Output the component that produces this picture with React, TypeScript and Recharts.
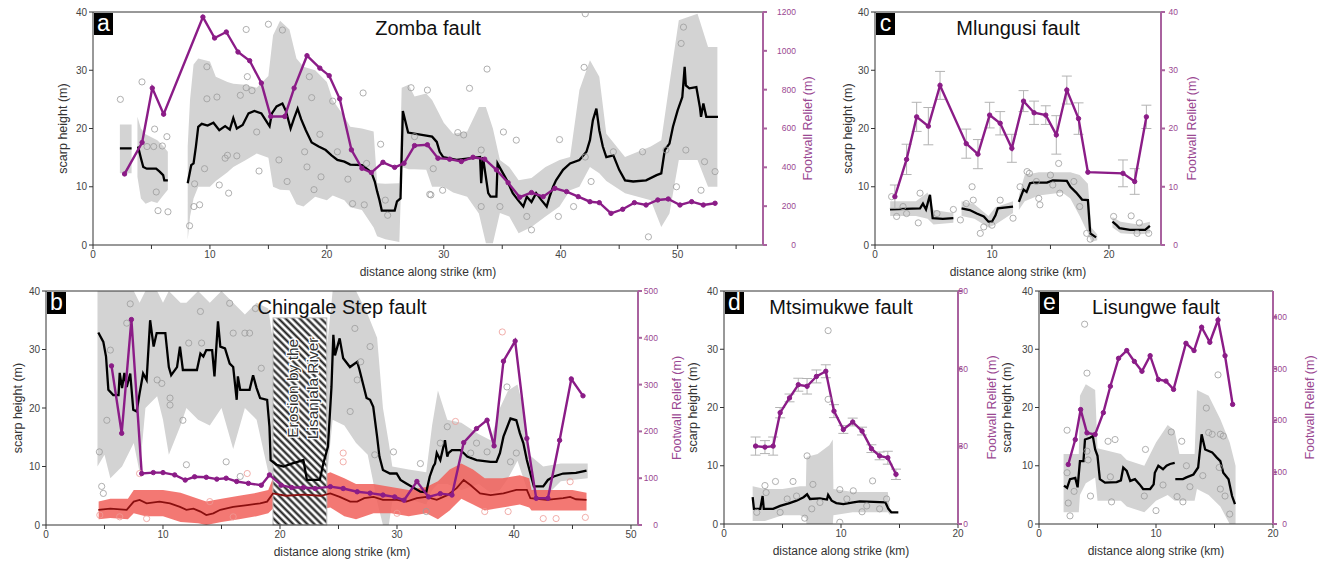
import React from "react";
import {
  ComposedChart,
  Line,
  Area,
  Scatter,
  XAxis,
  YAxis,
  ReferenceLine,
  ReferenceArea,
  ErrorBar,
} from "recharts";

const FONT = "'Liberation Sans', Arial, Helvetica, sans-serif";
const PURPLE = "#8b1c87";
const PURPLE_AXIS = "#a9629f";
const PURPLE_TEXT = "#9a4892";
const GREY_BAND = "#d3d3d3";
const RING = "#9c9c9c";

type XY = [number, number | null];
type Band = [number, number | null, number | null];

// ---- a: Zomba fault ----
const aScarp: XY[] = [
  [2.3, 16.6], [3.3, 16.6], [3.6, null],
  [3.85, 16.9], [4.1, 14.9], [4.3, 13.4], [4.6, 13.1], [5.4, 13.1], [5.7, 12.6], [6.0, 12.0], [6.1, 11.1], [6.4, 11.1], [7.0, null],
  [8.1, 10.6], [8.4, 13.7], [8.6, 14.0], [8.8, 16.9], [9.0, 20.3], [9.3, 20.8], [9.8, 20.5], [10.3, 21.0], [10.8, 19.7],
  [11.3, 20.4], [11.7, 19.8], [12.0, 21.8], [12.3, 20.0], [12.8, 20.6], [13.3, 22.6], [13.8, 23.0], [14.4, 22.6], [14.9, 21.0],
  [15.1, 20.4], [15.3, 22.6], [15.7, 23.8], [16.2, 24.3], [16.5, 23.0], [16.9, 20.0], [17.2, 21.8], [17.5, 23.4], [17.8, 21.6],
  [18.2, 19.7], [18.7, 17.6], [19.3, 16.9], [19.9, 16.3], [20.4, 15.4], [20.9, 14.6], [21.5, 14.3], [22.0, 13.8], [23.0, 13.7],
  [23.8, 12.5], [24.1, 10.9], [24.3, 9.2], [24.5, 7.7], [24.7, 5.9], [25.8, 5.9], [26.0, 7.5], [26.3, 8.0], [26.5, 23.0],
  [26.95, 19.3], [29.0, 18.6], [29.4, 17.7], [29.65, 16.0], [29.95, 15.1], [31.1, 14.6], [33.1, 15.1], [33.2, 10.6], [33.35, 15.1],
  [33.8, 8.9], [34.0, 8.3], [34.5, 8.3], [34.6, 14.0], [34.9, 12.9], [35.4, 11.1], [35.9, 8.9], [36.35, 7.7], [36.8, 6.6], [37.1, 8.3],
  [37.5, 7.4], [37.9, 8.9], [38.35, 7.7], [38.8, 6.6], [39.05, 8.3], [39.35, 10.0], [39.6, 11.1], [40.2, 12.9], [40.8, 14.0],
  [41.6, 14.6], [42.2, 16.0], [42.5, 18.0], [42.75, 21.4], [43.05, 23.4], [43.3, 19.7], [43.6, 16.9], [43.9, 15.1], [44.5, 15.4],
  [45.0, 12.9], [45.5, 11.1], [46.2, 10.9], [47.3, 11.1], [48.2, 12.0], [48.6, 12.3], [48.9, 16.3], [49.3, 17.4], [49.6, 20.3],
  [50.0, 23.1], [50.4, 25.4], [50.6, 30.6], [50.7, 27.4], [51.0, 26.9], [51.6, 27.1], [51.9, 23.7], [52.0, 22.0], [52.2, 24.3],
  [52.45, 22.0], [53.45, 22.0],
];
const aBand: Band[] = [
  [2.3, 12.3, 20.7], [3.3, 12.3, 20.7], [3.5, null, null],
  [3.8, 11.7, 22.0], [4.1, 8.0, 20.0], [4.5, 7.1, 19.0], [5.0, 7.5, 18.5], [5.5, 7.2, 18.0], [6.0, 8.5, 17.0], [6.4, 9.5, 16.0], [7.0, null, null],
  [8.1, 0.9, 17.0], [8.3, 4.9, 25.0], [8.6, 8.0, 31.0], [9.0, 10.0, 32.0], [10.0, 10.0, 31.5], [10.5, 11.0, 28.9], [11.5, 12.5, 28.0],
  [12.0, 13.4, 27.7], [13.0, 14.5, 27.5], [14.0, 15.7, 27.0], [15.0, 15.0, 29.0], [15.4, 10.0, 36.0], [16.0, 9.5, 38.5], [16.8, 9.4, 37.0],
  [17.4, 7.0, 32.0], [18.0, 6.6, 30.6], [19.0, 8.3, 30.0], [20.0, 7.7, 28.0], [20.5, 8.5, 24.9], [21.5, 7.7, 22.0], [22.0, 6.5, 20.3],
  [23.0, 6.0, 20.0], [24.0, 3.0, 19.5], [24.3, 1.5, 10.6], [25.0, 1.0, 10.5], [26.2, 0.5, 10.6], [26.4, 13.4, 27.0], [27.0, 13.0, 27.5],
  [27.5, 13.0, 25.5], [28.5, 12.9, 26.0], [29.0, 10.0, 24.9], [30.0, 10.0, 21.0], [30.8, 9.0, 19.1], [32.0, 8.3, 19.5], [33.0, 5.4, 23.7],
  [33.6, 0.3, 23.7], [34.2, 0.3, 20.0], [34.8, 5.5, 14.6], [35.6, 4.9, 13.4], [36.4, 2.0, 11.1], [37.5, 3.1, 11.5], [38.7, 4.9, 13.4],
  [39.9, 6.6, 14.6], [40.8, 9.4, 15.1], [41.6, 10.0, 26.6], [42.5, 13.4, 31.7], [43.3, 12.3, 28.9], [43.9, 11.0, 19.1], [45.5, 8.9, 15.1],
  [47.7, 7.7, 16.9], [48.6, 3.1, 18.0], [49.3, 5.4, 27.7], [50.1, 14.6, 38.6], [51.7, 14.6, 39.7], [52.6, 10.0, 34.0], [53.4, 10.0, 34.0],
];
const aCircles: XY[] = [
  [2.34, 25.0], [4.19, 28.0], [5.27, 19.9], [5.56, 5.9], [6.41, 5.7], [6.32, 18.6], [5.41, 9.1], [4.62, 16.9], [5.19, 16.9], [5.93, 17.0],
  [9.12, 6.9], [8.63, 6.6], [9.74, 30.6], [10.6, 25.4], [9.74, 25.1], [13.1, 37.0], [15.0, 37.9], [16.2, 36.9], [14.0, 19.4], [13.1, 27.0],
  [13.2, 28.9], [13.6, 26.5], [12.6, 25.7], [11.5, 15.4], [11.3, 14.9], [12.3, 15.3], [14.2, 12.7], [9.54, 13.1], [10.8, 10.3], [11.6, 8.9],
  [8.69, 10.5], [8.26, 3.3], [15.9, 14.6], [16.6, 10.9], [18.1, 16.0], [18.3, 13.4], [18.5, 28.9], [18.7, 25.3], [18.9, 9.5], [19.4, 19.0],
  [19.5, 11.7], [20.5, 24.7], [20.9, 16.0], [21.8, 11.3], [22.2, 7.1], [23.1, 26.1], [23.2, 6.9], [23.4, 14.0], [24.6, 17.3], [25.0, 7.7],
  [25.2, 5.1], [27.2, 27.0], [28.6, 26.6], [27.5, 18.6], [28.8, 8.7], [29.1, 13.1], [32.2, 26.9], [33.7, 30.2], [35.1, 19.4], [36.2, 18.0],
  [31.7, 18.9], [31.2, 19.3], [29.9, 9.4], [28.9, 8.6], [33.2, 16.3], [33.2, 6.6], [34.8, 6.6], [37.1, 4.9], [37.5, 2.6], [39.9, 18.1],
  [39.8, 4.9], [41.1, 6.6], [42.1, 39.7], [42.0, 30.5], [42.1, 15.1], [42.6, 10.9], [44.5, 16.0], [47.0, 16.0], [47.5, 1.4], [49.0, 16.3],
  [49.9, 10.0], [50.3, 34.6], [50.5, 37.4], [50.7, 16.3], [52.0, 9.4], [52.3, 14.3], [53.2, 12.6],
];
const aRelief: number[][] = [
  [2.7, 366], [4.2, 528], [5.07, 808], [6.04, 674], [9.4, 1174], [10.4, 1066], [11.4, 1097], [12.4, 994], [13.4, 949], [14.4, 834],
  [15.2, 662], [16.4, 662], [17.2, 808], [18.3, 975], [19.4, 911], [20.2, 872], [21.1, 753], [22.1, 490], [23.0, 395], [23.8, 373],
  [24.8, 426], [25.8, 400], [26.6, 421], [27.5, 512], [28.6, 516], [29.5, 447], [30.5, 442], [31.5, 430], [32.5, 452], [33.5, 442],
  [34.5, 387], [35.5, 321], [36.5, 246], [37.5, 270], [38.5, 249], [39.5, 292], [40.5, 275], [41.5, 249], [42.5, 223], [43.3, 218],
  [44.3, 163], [45.3, 184], [46.3, 218], [47.3, 206], [48.3, 232], [49.2, 237], [50.2, 206], [51.2, 223], [52.2, 206], [53.2, 215],
];

// ---- b: Chingale Step fault ----
const bScarp: XY[] = [
  [4.47, 32.9], [4.9, 31.3], [5.13, 28.8], [5.33, 23.1], [5.75, 22.2], [6.2, 22.2], [6.3, 26.0], [6.5, 23.4], [6.7, 26.0], [6.9, 23.6],
  [7.2, 25.9], [7.46, 19.7], [7.75, 19.4], [8.0, 22.5], [8.3, 25.9], [8.6, 24.8], [8.9, 35.0], [9.2, 30.5], [9.46, 32.8], [10.2, 32.8],
  [10.5, 27.0], [10.7, 25.6], [11.2, 27.0], [11.45, 30.5], [11.7, 26.5], [12.9, 26.5], [13.2, 29.3], [13.45, 28.8], [13.7, 29.9],
  [14.2, 29.9], [14.4, 25.4], [14.7, 34.8], [14.9, 30.5], [15.3, 30.2], [15.7, 27.6], [16.0, 27.0], [16.3, 21.4], [16.4, 25.4],
  [16.6, 23.1], [17.4, 23.1], [17.7, 25.6], [18.0, 23.4], [18.3, 21.7], [18.9, 21.4], [19.1, 16.8], [19.2, 11.1], [19.7, 10.3],
  [20.3, 10.0], [21.0, 10.5], [22.0, 11.1], [22.3, 7.7], [23.4, 7.7], [23.7, 10.5], [24.1, 13.4], [24.4, 23.6], [24.56, 32.5],
  [24.7, 29.0], [25.1, 31.9], [25.4, 28.5], [25.98, 27.0], [26.6, 27.9], [26.8, 26.5], [27.4, 21.7], [27.7, 21.4], [27.97, 20.2],
  [28.3, 15.1], [28.5, 11.7], [28.8, 9.4], [29.4, 8.8], [29.97, 8.8], [30.3, 7.7], [30.8, 7.1], [32.0, 5.7], [32.5, 5.6], [32.8, 8.3],
  [33.1, 10.0], [33.25, 10.5], [33.4, 12.3], [33.7, 11.1], [34.1, 14.5], [34.3, 11.7], [34.4, 12.3], [34.7, 12.8], [35.4, 12.8],
  [35.7, 12.3], [36.0, 11.7], [36.8, 11.1], [38.0, 10.8], [38.5, 10.8], [38.8, 12.3], [39.1, 15.1], [39.7, 18.2], [40.2, 17.9],
  [40.5, 15.7], [40.8, 14.0], [41.1, 11.1], [41.4, 8.8], [41.7, 6.6], [42.5, 6.6], [42.9, 7.7], [43.4, 8.3], [44.2, 8.8], [45.3, 8.9],
  [46.2, 9.3],
];
const bBand: Band[] = [
  [4.4, 10.0, 40], [5.0, 12.0, 40], [5.5, 8.0, 40], [6.5, 10.0, 40], [7.5, 14.0, 40], [8.0, 9.0, 38], [8.5, 20.0, 40], [9.5, 22.0, 40],
  [10.0, 18.0, 38], [10.5, 12.0, 40], [11.5, 17.0, 38], [12.0, 20.0, 38], [13.0, 18.0, 40], [14.0, 17.0, 38], [15.0, 20.0, 40],
  [16.0, 13.0, 38], [17.0, 20.0, 36], [18.0, 18.0, 38], [19.0, 9.0, 37], [19.5, 8.0, 30], [24.0, 8.0, 30], [24.5, 18.0, 40],
  [25.5, 17.0, 40], [26.5, 14.0, 40], [27.5, 12.0, 36], [28.3, 4.0, 32], [28.8, 0.0, 20], [29.3, 0.0, 14], [29.6, 4.0, 10],
  [31.0, 4.5, 9.5], [32.5, 3.5, 9.0], [33.0, 6.0, 17.0], [33.5, 7.0, 23.0], [34.3, 7.0, 18.0], [35.5, 6.0, 17.5], [37.0, 7.0, 15.5],
  [38.0, 5.5, 14.5], [38.8, 6.0, 20.0], [39.5, 8.0, 23.0], [40.3, 11.0, 24.0], [40.8, 8.0, 20.0], [41.3, 5.0, 12.0], [42.5, 4.5, 10.0],
  [44.0, 7.5, 10.5], [46.3, 8.0, 10.5],
];
const bRedLine: XY[] = [
  [4.47, 2.6], [5.5, 2.8], [6.9, 2.6], [7.5, 4.0], [8.0, 4.3], [8.6, 3.7], [9.7, 4.0], [10.6, 3.7], [11.45, 3.1], [12.0, 2.6],
  [12.6, 2.8], [13.2, 2.3], [13.7, 1.7], [14.3, 2.0], [14.9, 2.6], [16.0, 3.1], [17.2, 3.4], [18.3, 3.7], [18.9, 4.0], [19.4, 5.4],
  [20.5, 5.0], [22.0, 5.2], [23.5, 5.0], [24.3, 5.4], [25.1, 4.8], [26.0, 4.0], [26.6, 4.0], [27.2, 4.6], [28.0, 4.8], [28.8, 4.3],
  [30.0, 4.3], [30.8, 4.0], [31.7, 4.6], [32.5, 4.8], [33.4, 4.3], [34.3, 5.1], [35.1, 6.3], [35.7, 7.7], [36.3, 6.8], [37.1, 5.4],
  [38.0, 5.1], [39.1, 5.4], [40.2, 6.0], [41.1, 6.0], [41.4, 4.6], [42.8, 4.3], [44.2, 4.6], [44.8, 4.8], [45.3, 4.4], [46.2, 4.3],
];
const bRedBand: Band[] = [
  [4.5, 1.0, 4.0], [5.5, 1.2, 4.5], [7.0, 1.0, 4.5], [7.5, 2.0, 6.0], [8.5, 1.5, 6.0], [10.0, 1.5, 6.0], [11.5, 0.5, 5.5],
  [13.0, 0.3, 4.5], [13.7, 0.0, 4.0], [15.0, 0.5, 4.5], [16.5, 1.0, 5.0], [18.0, 1.5, 5.5], [19.0, 2.0, 6.0], [19.5, 3.0, 8.5],
  [21.0, 2.5, 8.0], [23.0, 2.5, 8.0], [24.3, 3.0, 9.0], [25.5, 1.5, 8.0], [26.5, 1.0, 7.0], [28.0, 2.0, 7.0], [29.5, 2.0, 6.5],
  [31.0, 1.5, 6.0], [32.5, 2.0, 6.5], [33.5, 1.0, 7.5], [34.5, 2.5, 9.5], [35.5, 4.5, 10.5], [36.5, 3.5, 9.5], [37.5, 2.5, 8.0],
  [39.0, 3.0, 8.0], [40.5, 3.5, 8.5], [41.3, 3.0, 8.0], [41.5, 2.5, 6.0], [43.0, 2.5, 6.0], [45.0, 2.5, 6.0], [46.2, 2.5, 5.5],
];
const bCircles: XY[] = [
  [4.56, 12.5], [4.76, 6.6], [4.9, 5.4], [5.2, 17.9], [5.5, 29.9], [7.2, 37.8], [6.9, 34.5], [9.9, 24.2], [10.6, 21.7], [10.6, 20.5],
  [12.0, 10.3], [12.2, 31.1], [13.2, 36.5], [13.3, 31.1], [15.4, 10.8], [15.7, 37.9], [16.0, 32.8], [17.0, 32.8], [17.4, 32.8],
  [17.9, 37.0], [18.4, 26.8], [16.6, 8.3], [11.7, 17.9], [9.5, 24.8], [26.0, 19.4], [26.6, 24.8], [26.4, 33.6], [26.9, 27.9],
  [27.7, 30.5], [28.1, 12.0], [29.7, 12.5], [32.0, 10.5], [34.3, 16.8], [33.7, 14.0], [36.3, 12.3], [36.8, 14.0], [37.7, 12.5],
  [39.4, 23.6], [39.7, 10.8], [40.2, 12.3], [32.5, 2.3],
];
const bRedCircles: XY[] = [
  [4.6, 1.7], [6.3, 1.4], [8.0, 8.8], [8.6, 1.1], [14.0, 4.0], [16.0, 1.4], [17.2, 8.8], [25.4, 12.3], [25.4, 10.8], [30.0, 2.0],
  [42.5, 1.1], [43.6, 1.1], [46.1, 1.3], [44.8, 7.4], [37.5, 2.3], [39.5, 2.3], [39.0, 33.0], [35.0, 17.7],
];
const bRelief: number[][] = [
  [5.6, 340], [6.47, 196], [7.3, 439], [8.18, 110], [9.17, 112], [10.0, 112], [11.0, 107], [11.9, 96], [12.7, 103], [13.7, 102],
  [14.6, 98], [15.4, 100], [16.3, 93], [17.3, 89], [18.4, 85], [19.1, 107], [20.1, 85], [21.0, 80], [22.0, 80], [23.0, 78],
  [24.3, 82], [25.4, 78], [26.6, 71], [27.7, 68], [28.8, 64], [29.8, 60], [30.6, 53], [31.7, 93], [32.7, 60], [33.7, 67], [34.7, 64],
  [35.7, 176], [36.8, 206], [37.7, 224], [38.3, 169], [39.1, 350], [40.1, 393], [41.1, 185], [41.9, 57], [42.9, 57], [43.9, 181],
  [44.9, 312], [45.9, 276],
];
const bHatch = { x1: 19.4, x2: 24.0, top: 35.4 };
const bHatchText = ["Erosion by the", "Lisanjala River"];

// ---- c: Mlungusi fault ----
const cScarp: XY[] = [
  [1.28, 6.1], [3.85, 6.3], [4.1, 7.1], [4.36, 6.1], [4.7, 8.6], [4.93, 4.6], [5.8, 4.5], [6.7, 4.6], [7.0, null],
  [7.4, 6.3], [8.1, 6.0], [8.7, 5.4], [9.3, 4.9], [9.7, 4.0], [10.0, 4.0], [10.3, 5.1], [10.5, 6.3], [11.8, 6.6], [12.0, null],
  [12.3, 7.4], [12.7, 9.5], [12.96, 9.1], [13.25, 10.6], [13.5, 10.7], [14.7, 10.7], [15.2, 11.1], [16.4, 11.0], [16.7, 10.0],
  [17.2, 9.0], [17.7, 7.8], [18.2, 7.7], [18.4, 2.0], [18.9, 1.3], [19.5, null],
  [20.3, 4.0], [20.65, 3.4], [20.9, 2.9], [21.8, 2.6], [23.1, 2.6], [23.5, 3.3],
];
const cBand: Band[] = [
  [1.3, 5, 7.5], [3.5, 5, 7.5], [4.5, 4.5, 9], [5.0, 3.5, 6], [6.7, 3.8, 5.5], [7.0, null, null],
  [7.4, 5, 7.5], [8.5, 4.5, 7], [9.7, 3, 5], [10.3, 3.5, 6.5], [11.8, 5.5, 7.5], [12.0, null, null],
  [12.3, 6, 8.5], [12.8, 7.5, 12], [14.0, 8.5, 12.5], [16.0, 9, 12.5], [16.7, 8, 12.5], [17.5, 5, 12], [18.2, 2, 10.5],
  [18.5, 0.5, 3], [19.0, 0.8, 1.8], [19.5, null, null],
  [20.3, 3, 4.8], [21.0, 2, 4], [22.5, 1.8, 3.5], [23.5, 2, 4],
];
const cCircles: XY[] = [
  [1.42, 8.3], [1.85, 4.9], [2.7, 5.4], [3.85, 8.9], [3.7, 3.8], [6.7, 6.1], [8.3, 10.0], [8.4, 7.7], [9.0, 2.0], [9.3, 3.1],
  [10.0, 3.4], [10.7, 7.7], [11.8, 4.6], [13.0, 12.6], [13.2, 12.3], [14.0, 8.0], [14.1, 6.9], [15.0, 12.0], [15.7, 14.0],
  [15.8, 8.9], [17.0, 10.9], [17.5, 6.6], [18.1, 2.0], [18.4, 1.0], [20.4, 4.9], [21.9, 5.0], [22.4, 2.0], [22.6, 3.8],
  [23.4, 2.0], [13.8, 10.9], [15.2, 10.3], [12.4, 10.0], [7.8, 7.1], [7.3, 4.3], [2.4, 6.6], [5.3, 5.4],
];
const cRelief: number[][] = [
  [1.7, 8.3, 2], [2.7, 14.7, 2.6], [3.56, 22, 2.5], [4.56, 20.4, 3.2], [5.56, 27.4, 2.4], [7.8, 17.4, 2.5], [8.8, 15.6, 2.5],
  [9.8, 22.3, 2.2], [10.7, 20.9, 2], [11.7, 16.6, 2.4], [12.7, 24.7, 1.8], [13.6, 22.7, 2], [14.6, 22.3, 1.6], [15.5, 18.9, 3.3],
  [16.4, 26.6, 2.4], [17.4, 21.7, 2.7], [18.2, 12.5, 0], [21.2, 12.3, 2.3], [22.2, 10.9, 2.2], [23.2, 22, 2],
];

// ---- d: Mtsimukwe fault ----
const dScarp: XY[] = [
  [2.45, 4.6], [2.56, 2.6], [3.1, 2.6], [3.3, 4.8], [3.4, 2.6], [4.2, 2.6], [4.8, 3.1], [5.6, 3.6], [6.2, 4.0], [6.8, 4.6],
  [7.1, 5.1], [7.35, 4.3], [8.2, 4.4], [8.8, 4.2], [8.9, 5.0], [9.2, 4.0], [9.6, 3.6], [10.2, 3.4], [11.05, 3.7], [11.6, 3.9],
  [12.8, 3.8], [13.8, 3.7], [14.05, 2.6], [14.3, 2.0], [14.9, 2.0],
];
const dBand: Band[] = [
  [2.45, 0.5, 6.5], [3.5, 0.5, 6], [5.0, 1.5, 6], [6.5, 1.5, 6.5], [7.0, 1.0, 6.5], [7.05, 0.0, 11.5], [8.0, 0.0, 12.0],
  [9.0, 0.0, 13.5], [9.3, 0.0, 14.5], [9.35, 1.5, 6.0], [11.0, 2.0, 5.5], [12.5, 2.0, 5.5], [14.0, 2.0, 5.5], [14.2, 1.5, 2.5],
];
const dCircles: XY[] = [
  [8.9, 33.2], [8.9, 21.4], [7.1, 11.7], [4.4, 7.3], [5.9, 7.3], [3.5, 6.6], [7.6, 6.8], [9.9, 5.9], [11.05, 5.7], [12.7, 7.4],
  [11.8, 2.1], [9.9, 0.3], [6.9, 1.0], [4.8, 2.0], [13.3, 2.6], [2.8, 2.0], [3.6, 5.4], [6.2, 4.8], [8.2, 3.7], [10.5, 4.3],
  [12.2, 3.1], [13.9, 4.3], [5.4, 4.3], [7.5, 2.6],
];
const dRelief: number[][] = [
  [2.7, 30.1, 3.5], [3.5, 29.7, 2.5], [4.2, 30.1, 3.5], [4.8, 43, 2], [5.6, 48.7, 1.5], [6.35, 53.8, 2.5], [7.1, 53.2, 3],
  [7.9, 57, 2.5], [8.7, 59, 2.5], [9.4, 43.6, 2.5], [10.2, 36.5, 1.5], [11.0, 39.4, 1.5], [11.8, 35.9, 1.5], [12.6, 29.1, 1.5],
  [13.3, 26.3, 1.5], [14.0, 25.6, 2.5], [14.7, 19.2, 2],
];

// ---- e: Lisungwe fault ----
const eScarp: XY[] = [
  [2.14, 6.6], [2.4, 6.2], [2.65, 7.7], [3.1, 7.9], [3.3, 6.3], [3.5, 10.8], [3.8, 10.8], [3.93, 14.5], [4.36, 14.8], [4.6, 15.1],
  [4.8, 12.8], [5.0, 11.7], [5.2, 7.7], [5.64, 7.1], [6.64, 7.2], [7.0, 7.5], [7.2, 9.7], [7.5, 9.1], [7.8, 7.4], [8.2, 7.7],
  [8.6, 6.8], [8.9, 6.0], [9.5, 6.0], [9.8, 6.8], [9.9, 8.8], [10.2, 10.0], [10.6, 9.4], [10.9, 10.0], [11.2, 10.3], [11.6, 10.5],
  [11.62, null], [11.65, 7.7], [12.3, 7.7], [12.6, 8.0], [13.2, 8.5], [13.6, 9.7], [13.9, 15.4], [14.2, 12.8], [14.8, 12.3],
  [15.2, 11.4], [15.5, 10.8], [15.75, 8.8], [16.2, 7.7], [16.5, 4.8], [16.75, 3.4],
];
const eBand: Band[] = [
  [2.1, 2, 12], [3.4, 2, 12], [3.5, 5, 22], [4.0, 7, 24], [4.8, 8, 23], [5.0, 4, 13], [7.0, 4, 12], [7.5, 3, 11], [9.0, 2, 10],
  [10.0, 4, 14], [11.0, 5, 17], [11.6, 4, 16], [12.0, 4, 12], [13.3, 4, 12], [13.5, 6, 23], [14.5, 5, 22], [15.5, 3, 18],
  [16.3, 0, 14], [16.8, 0, 10],
];
const eCircles: XY[] = [
  [2.4, 16.1], [3.9, 34.3], [4.1, 25.9], [4.1, 12.5], [4.2, 11.0], [4.4, 4.8], [2.65, 1.4], [2.5, 3.6], [2.4, 8.8], [3.0, 5.6],
  [5.9, 14.2], [6.5, 14.5], [6.1, 8.1], [6.2, 3.8], [9.1, 12.8], [9.0, 4.8], [10.0, 2.3], [10.6, 6.7], [11.3, 15.8], [11.8, 4.7],
  [12.2, 14.2], [12.3, 3.8], [12.6, 10.0], [12.9, 6.4], [14.0, 8.3], [14.3, 19.9], [14.5, 15.7], [14.8, 15.4], [15.3, 25.6],
  [15.4, 9.7], [15.5, 15.4], [15.5, 6.0], [15.75, 15.1], [15.9, 4.8], [16.3, 1.7],
];
const eRelief: number[][] = [
  [2.5, 115], [3.1, 163], [3.56, 221], [4.1, 176], [4.8, 173], [5.5, 215], [6.1, 266], [6.8, 320], [7.5, 335], [8.15, 314],
  [8.8, 295], [9.5, 325], [10.2, 279], [10.85, 276], [11.5, 260], [12.56, 349], [13.25, 335], [13.9, 380], [14.6, 351], [15.3, 394],
  [15.9, 325], [16.55, 231],
];

const toXY = (rows: XY[]) => rows.map(([x, y]) => ({ x, y }));
const toBand = (rows: Band[]) =>
  rows.map(([x, lo, hi]) => ({ x, r: lo == null || hi == null ? null : [lo, hi] }));
const toRelief = (rows: number[][]) => rows.map(([x, v, e]) => ({ x, v, e: e ?? 0 }));

const ring = (color: string) => (s: any) =>
  <circle cx={s.cx} cy={s.cy} r={3.1} fill="none" stroke={color} strokeWidth={0.8} />;

const rightTick = (end: number) => (t: any) => (
  <text x={t.x - 6 + end} y={t.y} dy="0.35em" textAnchor="end" fontSize={8.5} fill={PURPLE_TEXT} fontFamily={FONT}>
    {t.payload.value}
  </text>
);

const hatchShape = (s: any) => (
  <g>
    <defs>
      <pattern id="hatchB" width={5} height={5} patternUnits="userSpaceOnUse" patternTransform="rotate(-45)">
        <rect width={5} height={5} fill="#fff" />
        <line x1={2.5} y1={0} x2={2.5} y2={5} stroke="#1a1a1a" strokeWidth={2.1} />
      </pattern>
    </defs>
    <rect x={s.x} y={s.y} width={s.width} height={s.height} fill="url(#hatchB)" stroke="#bbb" strokeWidth={1} />
    {bHatchText.map((t, i) => (
      <text
        key={t}
        transform={`translate(${s.x + s.width * (i === 0 ? 0.36 : 0.73)}, ${s.y + s.height * 0.34}) rotate(-90)`}
        textAnchor="middle"
        dominantBaseline="central"
        fontSize={15.5}
        fontFamily={FONT}
        fill="#333"
        stroke="#fff"
        strokeWidth={2.5}
        paintOrder="stroke"
      >
        {t}
      </text>
    ))}
  </g>
);

type PanelProps = {
  letter: string;
  title: string;
  left: number;
  top: number;
  w: number;
  h: number;
  xMax: number;
  rMax: number;
  rTicks: number[];
  leftOff: number;
  rightOff: number;
  rTickEnd: number;
  scarp: XY[];
  band: Band[];
  circles: XY[];
  relief: number[][];
  errors?: boolean;
  b?: boolean;
};

function FaultPanel(p: PanelProps) {
  const lw = 2 * p.leftOff;
  const rw = 2 * p.rightOff;
  const width = lw + p.w + rw;
  const height = 10 + p.h + 58;
  const xTicks: number[] = [];
  for (let t = 0; t <= p.xMax; t += 5) xTicks.push(t);
  const axisText = { fontSize: 10, fill: "#444", fontFamily: FONT };
  return (
    <div style={{ position: "absolute", left: p.left - lw, top: p.top - 10, width, height }}>
      <ComposedChart width={width} height={height} margin={{ top: 10, right: 0, bottom: 4, left: 0 }}>
        <XAxis
          type="number"
          dataKey="x"
          domain={[0, p.xMax]}
          ticks={xTicks}
          allowDataOverflow
          height={54}
          stroke="#333"
          tickSize={4}
          tick={axisText}
          tickFormatter={(v: number) => (v % 10 === 0 ? String(v) : "")}
          label={{ value: "distance along strike (km)", position: "center", style: { fontSize: 12, fill: "#333", fontFamily: FONT } }}
        />
        <YAxis
          yAxisId="left"
          type="number"
          domain={[0, 40]}
          ticks={[0, 10, 20, 30, 40]}
          allowDataOverflow
          width={lw}
          stroke="#333"
          tickSize={4}
          tick={axisText}
          label={{ value: "scarp height (m)", angle: -90, position: "center", style: { fontSize: 12.5, fill: "#333", fontFamily: FONT } }}
        />
        <YAxis
          yAxisId="right"
          orientation="right"
          type="number"
          domain={[0, p.rMax]}
          ticks={p.rTicks}
          allowDataOverflow
          width={rw}
          stroke={PURPLE_AXIS}
          strokeWidth={2}
          tickSize={4}
          tick={rightTick(p.rTickEnd)}
          label={{ value: "Footwall Relief (m)", angle: -90, position: "center", style: { fontSize: 12.5, fill: PURPLE_TEXT, fontFamily: FONT } }}
        />
        <Area
          data={toBand(p.band)}
          dataKey="r"
          yAxisId="left"
          type="linear"
          stroke="none"
          fill={GREY_BAND}
          fillOpacity={1}
          connectNulls={false}
          dot={false}
          activeDot={false}
          isAnimationActive={false}
        />
        {p.b && (
          <Area
            data={toBand(bRedBand)}
            dataKey="r"
            yAxisId="left"
            type="linear"
            stroke="none"
            fill="#f1605a"
            fillOpacity={0.85}
            dot={false}
            activeDot={false}
            isAnimationActive={false}
          />
        )}
        {p.b && (
          <ReferenceArea
            yAxisId="left"
            x1={bHatch.x1}
            x2={bHatch.x2}
            y1={0}
            y2={bHatch.top}
            ifOverflow="visible"
            shape={hatchShape}
          />
        )}
        <Scatter data={toXY(p.circles)} dataKey="y" yAxisId="left" shape={ring(RING)} isAnimationActive={false} />
        {p.b && (
          <Scatter data={toXY(bRedCircles)} dataKey="y" yAxisId="left" shape={ring("#ee9a95")} isAnimationActive={false} />
        )}
        <Line
          data={toXY(p.scarp)}
          dataKey="y"
          yAxisId="left"
          type="linear"
          stroke="#000"
          strokeWidth={2.3}
          dot={false}
          activeDot={false}
          connectNulls={false}
          isAnimationActive={false}
        />
        {p.b && (
          <Line
            data={toXY(bRedLine)}
            dataKey="y"
            yAxisId="left"
            type="linear"
            stroke="#8a0f0f"
            strokeWidth={1.8}
            dot={false}
            activeDot={false}
            isAnimationActive={false}
          />
        )}
        <Line
          data={toRelief(p.relief)}
          dataKey="v"
          yAxisId="right"
          type="linear"
          stroke={PURPLE}
          strokeWidth={2.4}
          dot={{ r: 2.2, fill: PURPLE, stroke: PURPLE, strokeWidth: 1 }}
          activeDot={false}
          isAnimationActive={false}
        >
          {p.errors && <ErrorBar dataKey="e" width={5} stroke="#b3b3b3" strokeWidth={1} direction="y" />}
        </Line>
        <ReferenceLine yAxisId="left" y={40} stroke="#333" strokeWidth={1} />
      </ComposedChart>
      <div
        style={{
          position: "absolute",
          left: lw + 1,
          top: 11,
          width: 19,
          height: 22,
          background: "#000",
          color: "#fff",
          fontFamily: FONT,
          fontSize: 23,
          lineHeight: "20px",
          textAlign: "center",
        }}
      >
        {p.letter}
      </div>
      <div
        style={{
          position: "absolute",
          left: lw,
          top: 14,
          width: p.w,
          textAlign: "center",
          fontFamily: FONT,
          fontSize: 20,
          lineHeight: "24px",
          color: "#111",
        }}
      >
        {p.title}
      </div>
    </div>
  );
}

export default function App() {
  return (
    <div style={{ position: "absolute", left: 0, top: 0, width: 1329, height: 563, background: "#fff", overflow: "hidden" }}>
      <FaultPanel
        letter="a" title="Zomba fault" left={93} top={12} w={670} h={233} xMax={57.3}
        rMax={1200} rTicks={[0, 200, 400, 600, 800, 1000, 1200]} leftOff={30} rightOff={45} rTickEnd={33}
        scarp={aScarp} band={aBand} circles={aCircles} relief={aRelief}
      />
      <FaultPanel
        letter="c" title="Mlungusi fault" left={875} top={12} w={286} h={233} xMax={24.45}
        rMax={40} rTicks={[0, 10, 20, 30, 40]} leftOff={27} rightOff={31} rTickEnd={17}
        scarp={cScarp} band={cBand} circles={cCircles} relief={cRelief} errors
      />
      <FaultPanel
        letter="b" title="Chingale Step fault" left={46} top={291} w={592} h={234} xMax={50.6}
        rMax={500} rTicks={[0, 100, 200, 300, 400, 500]} leftOff={28} rightOff={39} rTickEnd={20}
        scarp={bScarp} band={bBand} circles={bCircles} relief={bRelief} b
      />
      <FaultPanel
        letter="d" title="Mtsimukwe fault" left={724} top={291} w={234} h={233} xMax={20}
        rMax={90} rTicks={[0, 30, 60, 90]} leftOff={31} rightOff={34} rTickEnd={10}
        scarp={dScarp} band={dBand} circles={dCircles} relief={dRelief} errors
      />
      <FaultPanel
        letter="e" title="Lisungwe fault" left={1039} top={291} w={234} h={233} xMax={20}
        rMax={450} rTicks={[0, 100, 200, 300, 400]} leftOff={32} rightOff={37} rTickEnd={14}
        scarp={eScarp} band={eBand} circles={eCircles} relief={eRelief}
      />
    </div>
  );
}
